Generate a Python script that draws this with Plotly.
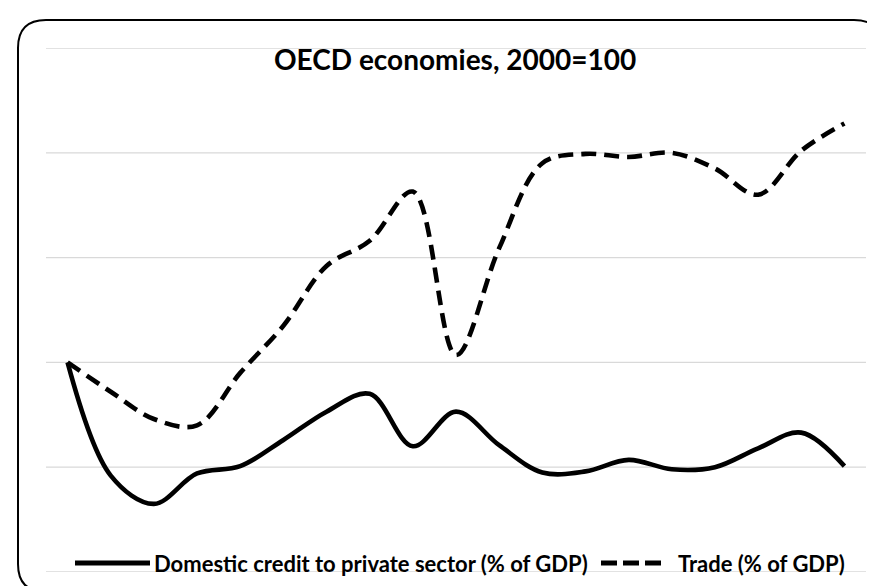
import plotly.graph_objects as go

# ---- data (2000 = 100) ----
years = list(range(2000, 2019))
credit = [100, 89.2, 86.5, 89.4, 90.1, 92.6, 95.3, 97.0, 92.0, 95.3,
          92.1, 89.5, 89.6, 90.7, 89.8, 90.0, 91.8, 93.3, 90.1]
trade = [100, 97.2, 94.6, 94.0, 99.0, 103.5, 109.2, 111.6, 116.3, 100.7,
         110.9, 119.0, 119.9, 119.6, 120.0, 118.5, 116.0, 120.2, 122.8]
y_ticks = [80, 90, 100, 110, 120, 130]
credit_name = "Domestic credit to private sector (% of GDP)"
trade_name = "Trade (% of GDP)"
title_text = "OECD economies, 2000=100"

W, H = 875, 586
ML, MR, MT, MB = 38, 17, 40, 22
PW, PH = W - ML - MR, H - MT - MB


def fx(px):
    return (px - ML) / PW


def fy(py):
    return (H - MB - py) / PH


FONT = "Lato, 'Open Sans', sans-serif"
GRID = "#d9d9d9"

fig = go.Figure()
fig.add_trace(go.Scatter(x=years, y=credit, name=credit_name, mode="lines",
                         line=dict(color="black", width=4.6, shape="spline", smoothing=1),
                         showlegend=False, hoverinfo="skip"))
fig.add_trace(go.Scatter(x=years, y=trade, name=trade_name, mode="lines",
                         line=dict(color="black", width=4.6, shape="spline", smoothing=1,
                                   dash="15px,8px"),
                         showlegend=False, hoverinfo="skip"))

shapes = []
# horizontal gridlines (drawn as shapes so the edge lines are kept)
for v in y_ticks:
    shapes.append(dict(type="line", xref="paper", yref="y", x0=0, x1=1, y0=v, y1=v,
                       line=dict(color=GRID, width=1.3), layer="below"))

# rounded frame (pixel coordinates converted to paper)
x0, x1, y0, y1, r = 10, 874, 12, 584, 28
rx, ry = r / PW, r / PH
X0, X1, Y0, Y1 = fx(x0), fx(x1), fy(y0), fy(y1)
path = (f"M{X0+rx},{Y0} L{X1-rx},{Y0} Q{X1},{Y0} {X1},{Y0-ry} "
        f"L{X1},{Y1+ry} Q{X1},{Y1} {X1-rx},{Y1} "
        f"L{X0+rx},{Y1} Q{X0},{Y1} {X0},{Y1+ry} "
        f"L{X0},{Y0-ry} Q{X0},{Y0} {X0+rx},{Y0} Z")
shapes.append(dict(type="path", path=path, xref="paper", yref="paper",
                   line=dict(color="black", width=2), layer="above"))

# custom legend
ly = 555
shapes.append(dict(type="line", xref="paper", yref="paper",
                   x0=fx(67), x1=fx(142), y0=fy(ly), y1=fy(ly),
                   line=dict(color="black", width=5)))
shapes.append(dict(type="line", xref="paper", yref="paper",
                   x0=fx(593), x1=fx(659), y0=fy(ly), y1=fy(ly),
                   line=dict(color="black", width=5, dash="16px,6px")))

annotations = [
    dict(text=f"<b>{title_text}</b>", x=fx(447), y=fy(51), xref="paper", yref="paper",
         xanchor="center", yanchor="middle", showarrow=False,
         font=dict(family=FONT, size=28, color="black")),
    dict(text=f"<b>{credit_name}</b>", x=fx(144), y=fy(ly), xref="paper", yref="paper",
         xanchor="left", yanchor="middle", showarrow=False,
         font=dict(family=FONT, size=22, color="black")),
    dict(text=f"<b>{trade_name}</b>", x=fx(668), y=fy(ly), xref="paper", yref="paper",
         xanchor="left", yanchor="middle", showarrow=False,
         font=dict(family=FONT, size=22, color="black")),
]

fig.update_layout(
    width=W, height=H,
    margin=dict(l=ML, r=MR, t=MT, b=MB),
    paper_bgcolor="white", plot_bgcolor="white",
    shapes=shapes, annotations=annotations,
    xaxis=dict(range=[1999.5, 2018.5], showgrid=False, showticklabels=False,
               zeroline=False, showline=False, ticks=""),
    yaxis=dict(range=[80, 130], tickvals=y_ticks, showgrid=False,
               showticklabels=False, zeroline=False, showline=False, ticks=""),
)

fig.write_html("out.html")
